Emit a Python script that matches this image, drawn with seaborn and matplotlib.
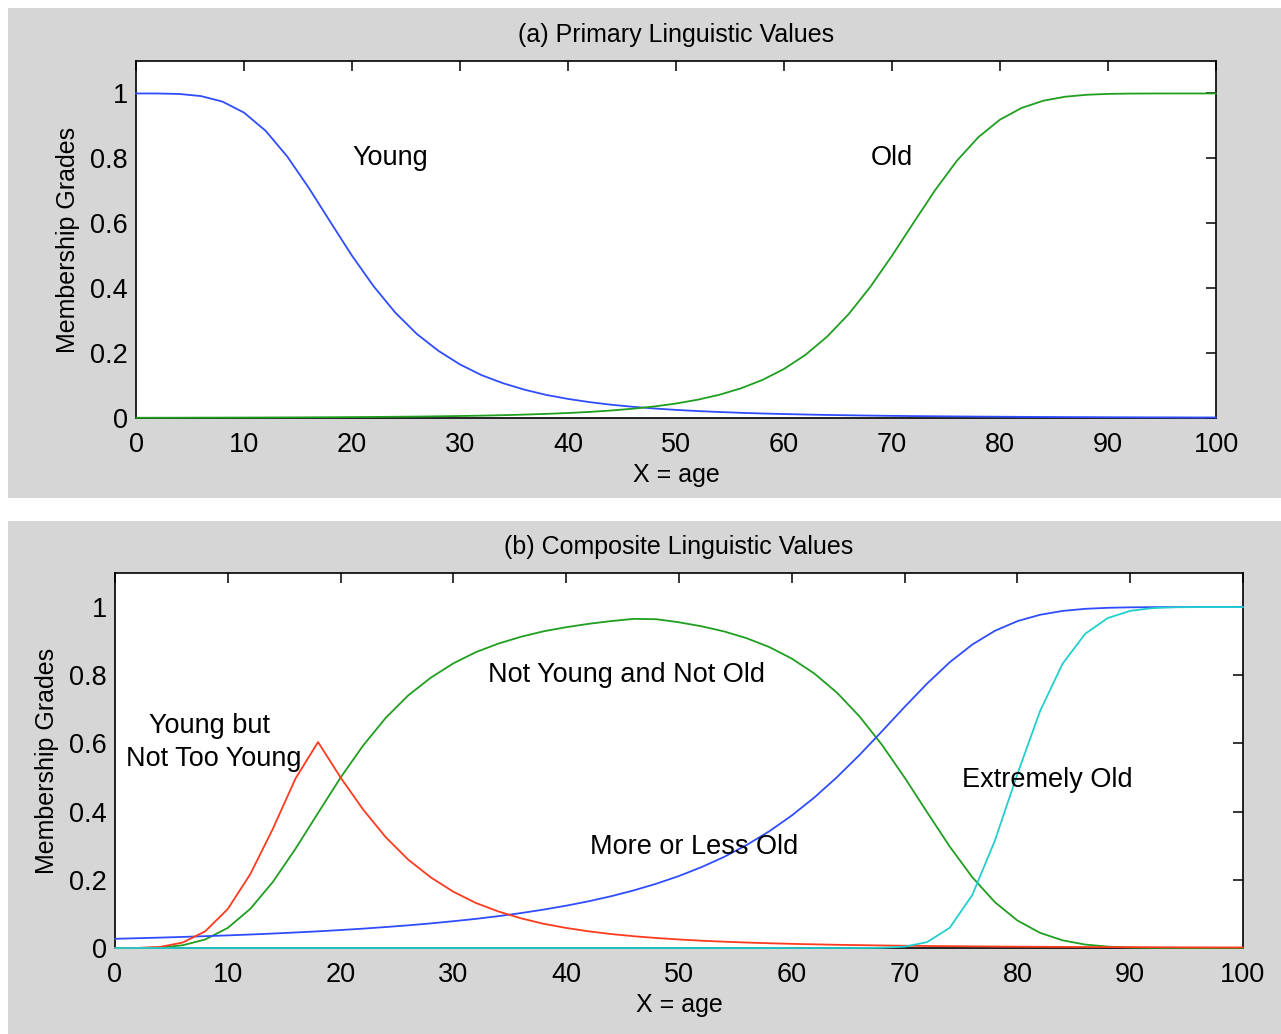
import matplotlib
matplotlib.use("Agg")
import matplotlib.pyplot as plt
from matplotlib.patches import Rectangle
import seaborn as sns

# age grid, read every 2 years
AGE = [0, 2, 4, 6, 8, 10, 12, 14, 16, 18, 20, 22, 24, 26, 28, 30, 32, 34, 36, 38, 40,
       42, 44, 46, 48, 50, 52, 54, 56, 58, 60, 62, 64, 66, 68, 70, 72, 74, 76, 78, 80,
       82, 84, 86, 88, 90, 92, 94, 96, 98, 100]

# (a) primary values
YOUNG = [1.0, 0.9999, 0.9984, 0.992, 0.975, 0.941, 0.885, 0.806, 0.709, 0.604, 0.5,
         0.406, 0.325, 0.259, 0.207, 0.165, 0.132, 0.107, 0.087, 0.071, 0.0588,
         0.0489, 0.0409, 0.0345, 0.0293, 0.025, 0.0214, 0.0185, 0.016, 0.0139, 0.0122,
         0.0107, 0.0094, 0.0084, 0.0074, 0.0066, 0.0059, 0.0053, 0.0048, 0.0043, 0.0039,
         0.0035, 0.0032, 0.0029, 0.0027, 0.0024, 0.0022, 0.002, 0.0019, 0.0017, 0.0016]
OLD = [0.0007, 0.0008, 0.0009, 0.0011, 0.0012, 0.0014, 0.0016, 0.0018, 0.0021, 0.0024,
       0.0028, 0.0032, 0.0038, 0.0044, 0.0052, 0.0062, 0.0073, 0.0087, 0.0105, 0.0127,
       0.0154, 0.0188, 0.0231, 0.0286, 0.0356, 0.0446, 0.0563, 0.0714, 0.0913, 0.1172,
       0.1511, 0.1949, 0.2509, 0.3206, 0.4044, 0.5, 0.602, 0.7024, 0.7923, 0.8654,
       0.9193, 0.9554, 0.9775, 0.9898, 0.9959, 0.9986, 0.9996, 0.9999, 1.0, 1.0, 1.0]

# (b) composite values
MORE_OR_LESS_OLD = [0.027, 0.0287, 0.0305, 0.0325, 0.0347, 0.037, 0.0396, 0.0424, 0.0455,
                    0.0489, 0.0527, 0.0568, 0.0615, 0.0665, 0.0722, 0.0786, 0.0855, 0.0935,
                    0.1025, 0.1127, 0.1241, 0.1371, 0.152, 0.1691, 0.1887, 0.2112, 0.2373,
                    0.2672, 0.3022, 0.3423, 0.3887, 0.4415, 0.5009, 0.5662, 0.6359, 0.7071,
                    0.7759, 0.8381, 0.8901, 0.9303, 0.9588, 0.9774, 0.9887, 0.9949, 0.9979,
                    0.9993, 0.9998, 1.0, 1.0, 1.0, 1.0]
NOT_YOUNG_NOT_OLD = [0.0, 0.0001, 0.0016, 0.008, 0.025, 0.059, 0.115, 0.194, 0.291, 0.396,
                     0.5, 0.594, 0.675, 0.741, 0.793, 0.835, 0.868, 0.893, 0.913, 0.929,
                     0.941, 0.951, 0.959, 0.9655, 0.9644, 0.9554, 0.9437, 0.9286, 0.9087,
                     0.8828, 0.8489, 0.8051, 0.7491, 0.6794, 0.5956, 0.5, 0.398, 0.2976,
                     0.2077, 0.1346, 0.0807, 0.0446, 0.0225, 0.0102, 0.0041, 0.0014, 0.0004,
                     0.0001, 0.0, 0.0, 0.0]
YOUNG_NOT_TOO_YOUNG = [0.0, 0.0002, 0.0032, 0.016, 0.049, 0.1145, 0.217, 0.35, 0.497, 0.604,
                       0.5, 0.406, 0.325, 0.259, 0.207, 0.165, 0.132, 0.107, 0.087, 0.071,
                       0.0588, 0.0489, 0.0409, 0.0345, 0.0293, 0.025, 0.0214, 0.0185, 0.016,
                       0.0139, 0.0122, 0.0107, 0.0094, 0.0084, 0.0074, 0.0066, 0.0059,
                       0.0053, 0.0048, 0.0043, 0.0039, 0.0035, 0.0032, 0.0029, 0.0027,
                       0.0024, 0.0022, 0.002, 0.0019, 0.0017, 0.0016]
EXTREMELY_OLD = [0.0, 0.0, 0.0, 0.0, 0.0, 0.0, 0.0, 0.0, 0.0, 0.0, 0.0, 0.0, 0.0, 0.0, 0.0,
                 0.0, 0.0, 0.0, 0.0, 0.0, 0.0, 0.0, 0.0, 0.0, 0.0, 0.0, 0.0, 0.0, 0.0, 0.0,
                 0.0, 0.0, 0.0, 0.0, 0.0007, 0.0039, 0.0173, 0.0593, 0.1553, 0.3146, 0.5101,
                 0.6942, 0.8336, 0.9214, 0.9677, 0.9889, 0.9971, 0.9995, 1.0, 1.0, 1.0]

XTICKS = [0, 10, 20, 30, 40, 50, 60, 70, 80, 90, 100]
YTICKS = [0, 0.2, 0.4, 0.6, 0.8, 1]
YTICKLABELS = ["0", "0.2", "0.4", "0.6", "0.8", "1"]

BLUE = "#2f4dff"
GREEN = "#1f9e1f"
RED = "#ff3a1e"
CYAN = "#22cfcf"
PANEL = "#d6d6d6"

sns.set_theme(style="white")
plt.rcParams["font.family"] = ["Liberation Sans", "DejaVu Sans"]
plt.rcParams["text.color"] = "black"
plt.rcParams["axes.labelcolor"] = "black"

W, H = 1281, 1034
fig = plt.figure(figsize=(W / 100, H / 100), dpi=100, facecolor="white")

# grey panels behind each axes
fig.patches.append(Rectangle((8 / W, 1 - 498 / H), (W - 8) / W, 490 / H,
                             transform=fig.transFigure, facecolor=PANEL, edgecolor="none", zorder=-10))
fig.patches.append(Rectangle((8 / W, 0), (W - 8) / W, (H - 521) / H,
                             transform=fig.transFigure, facecolor=PANEL, edgecolor="none", zorder=-10))

ax_a = fig.add_axes([136 / W, 1 - 418 / H, (1216 - 136) / W, (418 - 61) / H])
ax_b = fig.add_axes([115 / W, 1 - 948 / H, (1243 - 115) / W, (948 - 573) / H])
ax_a.set_zorder(5)
ax_b.set_zorder(5)


def style_axes(ax, title):
    ax.set_facecolor("white")
    ax.set_xlim(0, 100)
    ax.set_ylim(0, 1.1)
    ax.set_xticks(XTICKS)
    ax.set_yticks(YTICKS)
    ax.set_yticklabels(YTICKLABELS)
    ax.tick_params(direction="in", length=7, width=1.1, top=True, right=True,
                   labelsize=19.5, colors="black")
    ax.tick_params(axis="x", pad=10)
    ax.tick_params(axis="y", pad=6)
    for sp in ax.spines.values():
        sp.set_color("black")
        sp.set_linewidth(1.2)
        sp.set_visible(True)
    ax.set_title(title, fontsize=18, pad=13.5, color="black")
    ax.set_xlabel("X = age", fontsize=18, labelpad=4)
    ax.set_ylabel("Membership Grades", fontsize=18, labelpad=7)


def draw(ax, y, color):
    sns.lineplot(x=AGE, y=y, ax=ax, color=color, linewidth=1.3, zorder=3, clip_on=False)


def note(ax, x, y, s):
    ax.text(x, y, s, fontsize=19.5, ha="left", va="center", color="black")


# (a)
draw(ax_a, YOUNG, BLUE)
draw(ax_a, OLD, GREEN)
style_axes(ax_a, "(a) Primary Linguistic Values")
note(ax_a, 20, 0.8, "Young")
note(ax_a, 68, 0.8, "Old")

# (b)
draw(ax_b, NOT_YOUNG_NOT_OLD, GREEN)
draw(ax_b, MORE_OR_LESS_OLD, BLUE)
draw(ax_b, YOUNG_NOT_TOO_YOUNG, RED)
draw(ax_b, EXTREMELY_OLD, CYAN)
style_axes(ax_b, "(b) Composite Linguistic Values")
note(ax_b, 3.0, 0.65, "Young but")
note(ax_b, 1.0, 0.553, "Not Too Young")
note(ax_b, 33.1, 0.80, "Not Young and Not Old")
note(ax_b, 42.1, 0.297, "More or Less Old")
note(ax_b, 75.1, 0.494, "Extremely Old")

fig.savefig("out.png", dpi=100, facecolor="white")
